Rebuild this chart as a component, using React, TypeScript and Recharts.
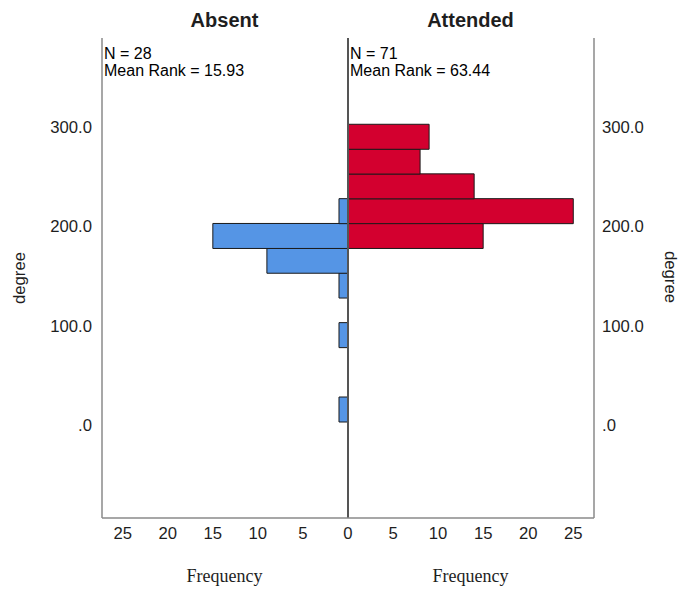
import React from 'react';
import { BarChart, Bar, XAxis, YAxis, ReferenceLine } from 'recharts';

// degree bins (25 wide), midpoints
const binMids = [15.5, 40.5, 65.5, 90.5, 115.5, 140.5, 165.5, 190.5, 215.5, 240.5, 265.5, 290.5];
const absentCounts = [1, 0, 0, 1, 0, 1, 9, 15, 1, 0, 0, 0];
const attendedCounts = [0, 0, 0, 0, 0, 0, 0, 15, 25, 14, 8, 9];

const degreeTicks = [0, 100, 200, 300];
const freqTicks = [-25, -20, -15, -10, -5, 0, 5, 10, 15, 20, 25];

const groups = [
  { name: 'Absent', n: 28, meanRank: '15.93' },
  { name: 'Attended', n: 71, meanRank: '63.44' },
];

const W = 680;
const H = 589;
const SANS = '"Liberation Sans", Arial, sans-serif';
const SERIF = '"Liberation Serif", "Times New Roman", serif';
const TEXT = '#1e1e1e';
const FRAME = '#8a8a8a';

// left side drawn as negative counts so the pyramid splits at 0
const data = binMids.map((mid, i) => ({
  mid,
  Absent: -absentCounts[i],
  Attended: attendedCounts[i],
}));

const fmtDegree = (v: number) => (v === 0 ? '.0' : v.toFixed(1));
const fmtFreq = (v: number) => String(Math.abs(v));

const tickStyle = { fontSize: 16.7, fill: TEXT, fontFamily: SANS };

export default function App() {
  const leftCenter = 224.5;
  const rightCenter = 470.5;

  return (
    <div style={{ position: 'absolute', left: 0, top: 0, width: W, height: H, background: '#fff' }}>
      <BarChart
        width={W}
        height={H}
        data={data}
        layout="vertical"
        stackOffset="sign"
        barCategoryGap={0}
        barGap={0}
        margin={{ top: 38, right: 0, bottom: 0, left: 0 }}
      >
        <XAxis
          type="number"
          domain={[-27.3, 27.3]}
          ticks={freqTicks}
          tickFormatter={fmtFreq}
          height={71}
          tickLine={false}
          tickSize={0}
          tickMargin={9}
          axisLine={{ stroke: FRAME, strokeWidth: 1.5 }}
          tick={tickStyle}
          interval={0}
        />
        <YAxis
          yAxisId="l"
          type="number"
          dataKey="mid"
          reversed
          domain={[-94, 390]}
          ticks={degreeTicks}
          tickFormatter={fmtDegree}
          width={102}
          tickLine={false}
          tickSize={0}
          tickMargin={10}
          axisLine={{ stroke: FRAME, strokeWidth: 1.5 }}
          tick={tickStyle}
          interval={0}
        />
        <YAxis
          yAxisId="r"
          orientation="right"
          type="number"
          dataKey="mid"
          reversed
          domain={[-94, 390]}
          ticks={degreeTicks}
          tickFormatter={fmtDegree}
          width={86}
          tickLine={false}
          tickSize={0}
          tickMargin={8}
          axisLine={{ stroke: FRAME, strokeWidth: 1.5 }}
          tick={tickStyle}
          interval={0}
        />
        <Bar
          yAxisId="l"
          dataKey="Absent"
          stackId="a"
          fill="#5595E5"
          stroke="#1a1a1a"
          strokeWidth={1}
          isAnimationActive={false}
        />
        <Bar
          yAxisId="l"
          dataKey="Attended"
          stackId="a"
          fill="#D3002F"
          stroke="#1a1a1a"
          strokeWidth={1}
          isAnimationActive={false}
        />
        <ReferenceLine yAxisId="l" x={0} stroke="#555" strokeWidth={2} />
      </BarChart>

      <svg
        width={W}
        height={H}
        style={{ position: 'absolute', left: 0, top: 0, pointerEvents: 'none' }}
      >
        {groups.map((g, i) => {
          const cx = i === 0 ? leftCenter : rightCenter;
          const lx = i === 0 ? 104 : 350;
          return (
            <g key={g.name}>
              <text x={cx} y={27} textAnchor="middle" fontFamily={SANS} fontWeight="bold" fontSize={20} fill={TEXT}>
                {g.name}
              </text>
              <text x={lx} y={59} fontFamily={SANS} fontSize={16} fill="#000">
                {`N = ${g.n}`}
              </text>
              <text x={lx} y={76} fontFamily={SANS} fontSize={16} fill="#000">
                {`Mean Rank = ${g.meanRank}`}
              </text>
              <text x={cx} y={582} textAnchor="middle" fontFamily={SERIF} fontSize={18} fill={TEXT}>
                Frequency
              </text>
            </g>
          );
        })}
        <text
          x={19}
          y={278}
          transform="rotate(-90 19 278)"
          textAnchor="middle"
          dominantBaseline="central"
          fontFamily={SANS}
          fontSize={16.7}
          fill={TEXT}
        >
          degree
        </text>
        <text
          x={670}
          y={277}
          transform="rotate(90 670 277)"
          textAnchor="middle"
          dominantBaseline="central"
          fontFamily={SANS}
          fontSize={16.7}
          fill={TEXT}
        >
          degree
        </text>
      </svg>
    </div>
  );
}
